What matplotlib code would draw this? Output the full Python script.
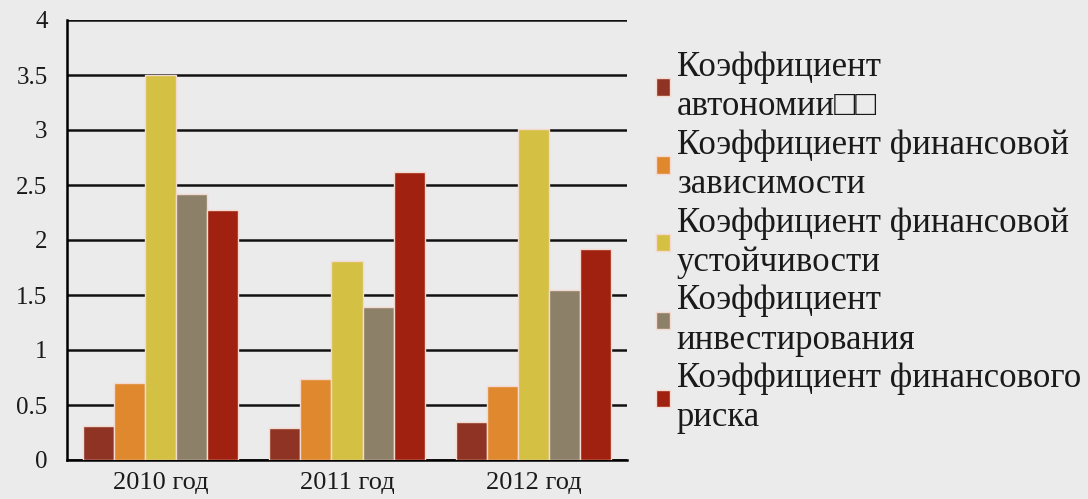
import numpy as np
import matplotlib
matplotlib.use("Agg")
import matplotlib.pyplot as plt

# data
years = ["2010 год", "2011 год", "2012 год"]
series_names = [
    "Коэффициент\nавтономии\u25a1\u25a1",
    "Коэффициент финансовой\nзависимости",
    "Коэффициент финансовой\nустойчивости",
    "Коэффициент\nинвестирования",
    "Коэффициент финансового\nриска",
]
autonomy = [0.31, 0.29, 0.35]
dependence = [0.70, 0.74, 0.67]
stability = [3.50, 1.81, 3.01]
investment = [2.42, 1.39, 1.55]
risk = [2.27, 2.62, 1.92]
colors = ["#8f3424", "#e0882e", "#d4c043", "#8c8068", "#a0210f"]

values = [autonomy, dependence, stability, investment, risk]

plt.rcParams["font.family"] = ["Liberation Serif", "DejaVu Serif"]

fig = plt.figure(figsize=(10.88, 4.99), dpi=100)
fig.patch.set_facecolor("#ebebeb")
ax = fig.add_axes([67 / 1088, 39 / 499, 560 / 1088, 440 / 499])
ax.set_facecolor("#ebebeb")

x = np.arange(len(years))
n = len(values)
w = 1.0 / (n + 1)
handles = []
for i, (vals, c) in enumerate(zip(values, colors)):
    b = ax.bar(x + (i - (n - 1) / 2) * w, vals, width=w, color=c,
               edgecolor="#f3d9cf", linewidth=1.0, zorder=3)
    handles.append(b)

ax.set_xlim(-0.5, len(years) - 0.5)
ax.set_ylim(0, 4)
ax.set_yticks(np.arange(0, 4.01, 0.5))
ax.set_yticklabels(["0", "0.5", "1", "1.5", "2", "2.5", "3", "3.5", "4"])
ax.set_xticks(x)
ax.set_xticklabels(years)
ax.tick_params(axis="both", length=0, labelsize=18, colors="#1a1a1a")
ax.tick_params(axis="x", labelsize=19, pad=9)
ax.tick_params(axis="y", pad=14)
ax.yaxis.grid(True, color="#111111", linewidth=1.8, zorder=0)
ax.set_axisbelow(True)
for s in ["top", "right"]:
    ax.spines[s].set_visible(False)
ax.spines["left"].set_linewidth(1.8)
ax.spines["bottom"].set_linewidth(1.8)

leg = fig.legend(handles, series_names, loc="upper left",
                 bbox_to_anchor=(642 / 1088, 1 - 37 / 499),
                 frameon=False, fontsize=25, handlelength=0.4, handleheight=0.4,
                 handletextpad=0.2, labelspacing=0.16, borderaxespad=0)
for t in leg.get_texts():
    t.set_color("#1a1a1a")
    t.set_linespacing(1.25)

fig.savefig("out.png", dpi=100, facecolor=fig.get_facecolor())
